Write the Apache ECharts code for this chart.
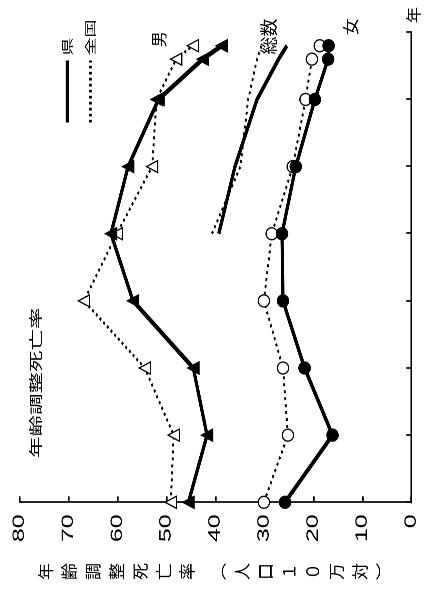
<!DOCTYPE html>
<html>
<head>
<meta charset="utf-8">
<script src="https://cdn.jsdelivr.net/npm/echarts@6.0.0/dist/echarts.min.js"></script>
<style>
  html, body { margin: 0; padding: 0; background: #fff; overflow: hidden; }
  #chart { position: absolute; left: 0; top: 0; transform-origin: 0 0; }
</style>
</head>
<body>
<div id="chart"></div>
<script>
// data (years on the horizontal axis of the unrotated chart)
var years = [1960, 1965, 1970, 1975, 1980, 1985, 1990, 1993, 1994];
var prefMale   = [45.5, 41.7, 44.5, 56.8, 61.3, 57.8, 51.6, 42.6, 38.7];
var natMale    = [49.1, 48.5, 54.4, 66.8, 60.1, 52.9, 52.0, 48.0, 44.6];
var prefFemale = [25.8, 16.1, 21.8, 26.2, 26.4, 23.6, 19.7, 17.0, 16.9];
var natFemale  = [30.1, 25.2, 26.2, 30.1, 28.5, 24.2, 21.6, 20.3, 18.7];
var prefTotal  = [null, null, null, null, 39.3, 36.0, 31.5, 27.1, 25.4];
var natTotal   = [null, null, null, null, 40.7, 34.9, 33.3, 31.5, 30.6];
var legendNames = ['県', '全国'];
var valueTicks = { min: 0, max: 80, interval: 10 };
var yearTicks = { min: 1960, max: 1995, interval: 5 };

// the picture is the chart turned a quarter turn left, with its text drawn wide
var W = 591, K = 1.55, H = 428 * K;
var dom = document.getElementById('chart');
dom.style.width = W + 'px';
dom.style.height = H + 'px';
dom.style.transform = 'translateY(' + W + 'px) rotate(-90deg) scaleY(' + (1 / K) + ')';

var JP = '"Noto Sans CJK JP", "Noto Sans", sans-serif';

var solidLine = { color: '#000', width: 5, type: 'solid' };
var dottedLine = { color: '#000', width: 3, type: [3, 4] };

function pairs(values) {
    var out = [];
    values.forEach(function (v, i) {
        if (v !== null) out.push([years[i], v]);
    });
    return out;
}

function makeSeries(name, values, dotted, symbol, filled) {
    return {
        name: name,
        type: 'line',
        data: pairs(values),
        symbol: symbol || 'none',
        symbolSize: [12, 17.5],
        showSymbol: !!symbol,
        lineStyle: dotted ? dottedLine : solidLine,
        itemStyle: {
            color: filled ? '#000' : '#fff',
            borderColor: '#000',
            borderWidth: 1.6
        },
        emphasis: { disabled: true },
        silent: true
    };
}

// plain label that should not be stretched
function label(text, x, y, size) {
    return {
        type: 'text',
        x: x,
        y: y * K,
        scaleY: K,
        style: {
            text: text,
            fontSize: size,
            fontFamily: JP,
            fill: '#000',
            align: 'center',
            verticalAlign: 'middle',
            textAlign: 'center',
            textVerticalAlign: 'middle'
        }
    };
}

var chart = echarts.init(dom, null, { devicePixelRatio: 2 });
chart.setOption({
    animation: false,
    backgroundColor: '#fff',
    title: {
        text: '年齢調整死亡率',
        left: 128,
        top: 36.5 * K - 17,
        textStyle: { fontSize: 21.5, fontWeight: 'normal', fontFamily: JP, color: '#000' }
    },
    legend: {
        data: [
            { name: legendNames[0], lineStyle: { width: 5, type: 'solid' } },
            { name: legendNames[1], lineStyle: { width: 4.2, type: [2.7, 3.3] } }
        ],
        orient: 'vertical',
        left: 461,
        top: 65.7 * K - 12,
        itemWidth: 62,
        itemHeight: 24,
        itemGap: 26 * K - 24,
        itemStyle: { opacity: 0 },
        textStyle: { fontSize: 18, fontFamily: JP, color: '#000' }
    },
    grid: {
        left: 88.7,
        right: 32.3,
        top: 19.3 * K,
        bottom: 16.3 * K
    },
    xAxis: {
        type: 'value',
        min: yearTicks.min,
        max: yearTicks.max,
        interval: yearTicks.interval,
        axisLine: { lineStyle: { color: '#000', width: 2.6 } },
        axisTick: { inside: true, length: 8, lineStyle: { color: '#000', width: 1.7 } },
        axisLabel: { show: false },
        splitLine: { show: false }
    },
    yAxis: {
        type: 'value',
        min: valueTicks.min,
        max: valueTicks.max,
        interval: valueTicks.interval,
        axisLine: { show: true, lineStyle: { color: '#000', width: 1.7 } },
        axisTick: { show: true, inside: true, length: 6, lineStyle: { color: '#000', width: 2.6 } },
        axisLabel: { margin: 12, fontSize: 25, fontFamily: '"Liberation Sans", Arial, sans-serif', color: '#000' },
        splitLine: { show: false }
    },
    series: [
        { name: '県', type: 'line', data: [], symbol: 'none', lineStyle: { color: '#000', width: 5 } },
        { name: '全国', type: 'line', data: [], symbol: 'none', lineStyle: { color: '#000', width: 4.2, type: [2.7, 3.3] } },
        makeSeries('全国総数', natTotal, true),
        makeSeries('県総数', prefTotal, false),
        makeSeries('全国男', natMale, true, 'triangle', false),
        makeSeries('県男', prefMale, false, 'triangle', true),
        makeSeries('全国女', natFemale, true, 'circle', false),
        makeSeries('県女', prefFemale, false, 'circle', true)
    ],
    graphic: [
        label('男', 551.8, 159.2, 16),
        label('総数', 554.5, 268.5, 18),
        label('女', 564.3, 350.5, 17),
        label('年', 576, 413.3, 16),
        {
            type: 'text',
            x: 19.5,
            y: 214.5 * K,
            scaleY: K,
            style: {
                text: ['年', '齢', '調', '整', '死', '亡', '率'].map(function (c) { return '{a|' + c + '}'; }).join('\n') +
                      '\n{s| }\n' +
                      ['︵', '人', '口', '１', '０', '万', '対', '︶'].map(function (c) { return '{a|' + c + '}'; }).join('\n'),
                fontSize: 17,
                fontFamily: JP,
                fill: '#000',
                align: 'center',
                verticalAlign: 'middle',
                textAlign: 'center',
                textVerticalAlign: 'middle',
                rich: {
                    a: { fontSize: 17, lineHeight: 23.6, fontFamily: JP, align: 'center' },
                    s: { fontSize: 4, lineHeight: 7.5 }
                }
            }
        }
    ]
});
</script>
</body>
</html>
